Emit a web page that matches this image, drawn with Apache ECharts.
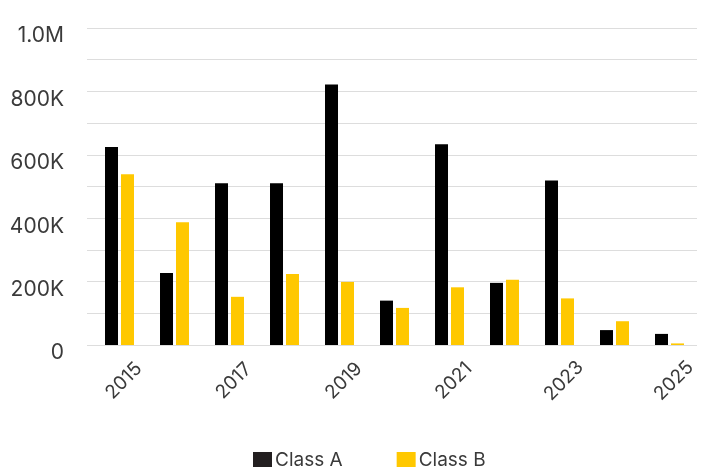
<!DOCTYPE html>
<html>
<head>
<meta charset="utf-8">
<title>Class A vs Class B by year</title>
<script src="https://cdn.jsdelivr.net/npm/echarts@6/dist/echarts.min.js"></script>
<style>
  html, body { margin: 0; padding: 0; background: #ffffff; }
  #chart { width: 720px; height: 467px; }
</style>
</head>
<body>
<div id="chart"></div>
<script>
// Years on the horizontal axis
var years = ['2015', '2016', '2017', '2018', '2019', '2020', '2021', '2022', '2023', '2024', '2025'];

// Series values
var classA = [625000, 227000, 510000, 510000, 822000, 140000, 633000, 196000, 519000, 47000, 35000];
var classB = [539000, 387000, 152000, 224000, 199000, 117000, 182000, 206000, 147000, 75000, 5000];

// Series names
var seriesNames = ['Class A', 'Class B'];

var FONT = 'Inter, "Noto Sans", sans-serif';
var TEXT = '#3a3a3a';
var GRID_LINE = '#dddddd';

function formatValue(v) {
  if (v % 200000 !== 0) return '';
  if (v === 0) return '0';
  if (v >= 1000000) return (v / 1000000).toFixed(1) + 'M';
  return (v / 1000) + 'K';
}

var chart = echarts.init(document.getElementById('chart'), null, { renderer: 'canvas' });

chart.setOption({
  animation: false,
  backgroundColor: '#ffffff',
  grid: [
    // plotting area for the bars
    { left: 92, right: 23, top: 28, bottom: 122, containLabel: false },
    // value scale with the horizontal rules and labels
    { left: 87, right: 23, top: 28, bottom: 122, containLabel: false }
  ],
  legend: {
    data: [
      { name: seriesNames[0], itemStyle: { color: '#231f20' } },
      { name: seriesNames[1], itemStyle: { color: '#ffc800' } }
    ],
    left: 253,
    top: 451,
    padding: 0,
    itemWidth: 19,
    itemHeight: 17,
    itemGap: 54,
    icon: 'rect',
    textStyle: { fontFamily: FONT, fontSize: 19, color: TEXT, padding: [0, 0, 0, -2] }
  },
  xAxis: [
    {
      type: 'category',
      gridIndex: 0,
      data: years,
      axisLine: { show: false },
      axisTick: { show: false },
      splitLine: { show: false },
      axisLabel: {
        interval: 1,
        rotate: 45,
        align: 'center',
        verticalAlign: 'middle',
        padding: [0, 0, 0, 12],
        margin: 40,
        fontFamily: FONT,
        fontSize: 19,
        color: TEXT
      }
    },
    {
      type: 'category',
      gridIndex: 1,
      data: years,
      show: false
    }
  ],
  yAxis: [
    {
      type: 'value',
      gridIndex: 0,
      min: 0,
      max: 1000000,
      interval: 100000,
      show: false,
      splitLine: { show: false }
    },
    {
      type: 'value',
      gridIndex: 1,
      min: 0,
      max: 1000000,
      interval: 100000,
      axisLine: { show: false },
      axisTick: { show: false },
      splitLine: { show: true, lineStyle: { color: GRID_LINE, width: 1 } },
      axisLabel: {
        formatter: formatValue,
        margin: 23,
        verticalAlign: 'top',
        lineHeight: 16,
        fontFamily: FONT,
        fontSize: 21,
        color: TEXT
      }
    }
  ],
  series: [
    {
      name: seriesNames[0],
      type: 'bar',
      xAxisIndex: 0,
      yAxisIndex: 0,
      data: classA,
      barWidth: 13,
      barGap: '23%',
      itemStyle: { color: '#000000' }
    },
    {
      name: seriesNames[1],
      type: 'bar',
      xAxisIndex: 0,
      yAxisIndex: 0,
      data: classB,
      barWidth: 13,
      barGap: '23%',
      itemStyle: { color: '#ffc800' }
    }
  ]
});
</script>
</body>
</html>
